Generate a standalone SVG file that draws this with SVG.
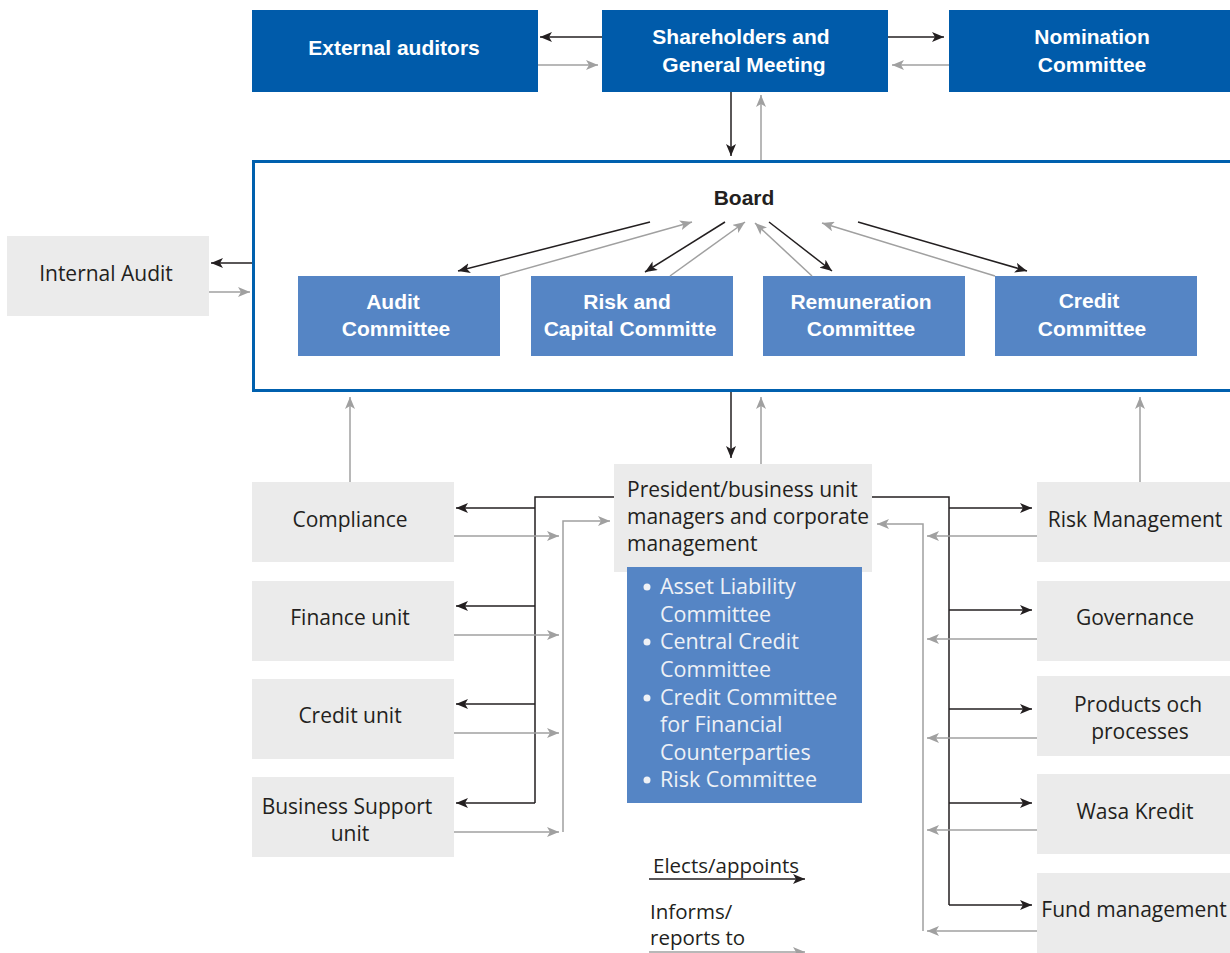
<svg xmlns="http://www.w3.org/2000/svg" width="1230" height="953" viewBox="0 0 1230 953">
<style>
.dk{fill:#005BAA}
.md{fill:#5585C5}
.lt{fill:#EBEBEB}
.bt{font-family:"Liberation Sans",Arial,sans-serif;font-weight:bold;font-size:21px;fill:#fff;text-anchor:middle}
.gt{font-family:"Open Sans","Liberation Sans",Arial,sans-serif;font-size:21px;fill:#231F20;text-anchor:middle}
.lt2{font-family:"Open Sans","Liberation Sans",Arial,sans-serif;font-size:21px;fill:#231F20}
.lg{font-family:"Open Sans","Liberation Sans",Arial,sans-serif;font-size:20.5px;fill:#231F20}
.wt{font-family:"Open Sans","Liberation Sans",Arial,sans-serif;font-size:21.5px;fill:#EEF1F6}
.k{stroke:#231F20;stroke-width:1.5;fill:none}
.g{stroke:#A0A0A0;stroke-width:1.5;fill:none}
.ka{marker-end:url(#ak)}
.ga{marker-end:url(#ag)}
</style>
<defs>
<marker id="ak" viewBox="0 0 12 10" refX="12" refY="5" markerWidth="12" markerHeight="10" markerUnits="userSpaceOnUse" orient="auto"><path d="M0,0 L12,5 L0,10 L3,5 z" fill="#231F20"/></marker>
<marker id="ag" viewBox="0 0 12 10" refX="12" refY="5" markerWidth="12" markerHeight="10" markerUnits="userSpaceOnUse" orient="auto"><path d="M0,0 L12,5 L0,10 L3,5 z" fill="#A0A0A0"/></marker>
</defs>
<rect width="1230" height="953" fill="#fff"/>

<g id="board">
<rect x="253.5" y="161.5" width="1000" height="229" fill="none" stroke="#0060AE" stroke-width="3"/>
<text x="744" y="205" style="font-family:'Liberation Sans',Arial,sans-serif;font-weight:bold;font-size:21px;fill:#231F20;text-anchor:middle">Board</text>
</g>

<g id="external-auditors"><rect class="dk" x="252" y="10" width="286" height="82"/><text class="bt" x="394" y="55">External auditors</text></g>
<g id="shareholders"><rect class="dk" x="602" y="10" width="286" height="82"/><text class="bt" x="741" y="44">Shareholders and</text><text class="bt" x="744" y="72">General Meeting</text></g>
<g id="nomination"><rect class="dk" x="949" y="10" width="290" height="82"/><text class="bt" x="1092" y="44">Nomination</text><text class="bt" x="1092" y="72">Committee</text></g>

<g id="internal-audit"><rect class="lt" x="7" y="236" width="202" height="80"/><text class="gt" x="106" y="281">Internal Audit</text></g>

<g id="audit-committee"><rect class="md" x="298" y="276" width="202" height="80"/><text class="bt" x="393" y="309">Audit</text><text class="bt" x="396" y="336">Committee</text></g>
<g id="risk-capital"><rect class="md" x="531" y="276" width="202" height="80"/><text class="bt" x="627" y="309">Risk and</text><text class="bt" x="630" y="336">Capital Committe</text></g>
<g id="remuneration"><rect class="md" x="763" y="276" width="202" height="80"/><text class="bt" x="861" y="309">Remuneration</text><text class="bt" x="861" y="336">Committee</text></g>
<g id="credit-committee"><rect class="md" x="995" y="276" width="202" height="80"/><text class="bt" x="1089" y="308">Credit</text><text class="bt" x="1092" y="336">Committee</text></g>

<g id="president"><rect class="lt" x="614" y="464" width="258" height="108"/>
<text class="lt2" x="627" y="497">President/business unit</text>
<text class="lt2" x="627" y="524">managers and corporate</text>
<text class="lt2" x="627" y="551">management</text></g>

<g id="management-committees"><rect class="md" x="627" y="567" width="235" height="236"/>
<g class="wt">
<circle cx="647" cy="587" r="3.5" fill="#EEF1F6"/><text x="660" y="594">Asset Liability</text><text x="660" y="622">Committee</text>
<circle cx="647" cy="642" r="3.5" fill="#EEF1F6"/><text x="660" y="649">Central Credit</text><text x="660" y="677">Committee</text>
<circle cx="647" cy="698" r="3.5" fill="#EEF1F6"/><text x="660" y="705">Credit Committee</text><text x="660" y="732">for Financial</text><text x="660" y="760">Counterparties</text>
<circle cx="647" cy="780" r="3.5" fill="#EEF1F6"/><text x="660" y="787">Risk Committee</text>
</g></g>

<g id="compliance"><rect class="lt" x="252" y="482" width="202" height="80"/><text class="gt" x="350" y="527">Compliance</text></g>
<g id="finance-unit"><rect class="lt" x="252" y="581" width="202" height="80"/><text class="gt" x="350" y="625">Finance unit</text></g>
<g id="credit-unit"><rect class="lt" x="252" y="679" width="202" height="80"/><text class="gt" x="350" y="723">Credit unit</text></g>
<g id="business-support"><rect class="lt" x="252" y="777" width="202" height="80"/><text class="gt" x="347" y="814">Business Support</text><text class="gt" x="350" y="841">unit</text></g>

<g id="risk-management"><rect class="lt" x="1037" y="482" width="200" height="80"/><text class="gt" x="1135" y="527">Risk Management</text></g>
<g id="governance"><rect class="lt" x="1037" y="581" width="200" height="80"/><text class="gt" x="1135" y="625">Governance</text></g>
<g id="products"><rect class="lt" x="1037" y="676" width="200" height="80"/><text class="gt" x="1138" y="712">Products och</text><text class="gt" x="1140" y="739">processes</text></g>
<g id="wasa-kredit"><rect class="lt" x="1037" y="774" width="200" height="80"/><text class="gt" x="1135" y="819">Wasa Kredit</text></g>
<g id="fund-management"><rect class="lt" x="1037" y="873" width="200" height="90"/><text class="gt" x="1134" y="917">Fund management</text></g>

<g id="connectors">
<path class="k ka" d="M602,37 L540,37"/>
<path class="g ga" d="M538,65 L598,65"/>
<path class="k ka" d="M888,37 L944,37"/>
<path class="g ga" d="M949,65 L892,65"/>
<path class="k ka" d="M731,92 L731,156"/>
<path class="g ga" d="M761,160 L761,95"/>
<path class="k ka" d="M252,263 L211,263"/>
<path class="g ga" d="M209,292 L250,292"/>
<path class="k ka" d="M650,222 L458,271"/>
<path class="g ga" d="M500,276 L692,222"/>
<path class="k ka" d="M725,222 L645,272"/>
<path class="g ga" d="M670,276 L745,222"/>
<path class="g ga" d="M812,276 L755,223"/>
<path class="k ka" d="M769,222 L832,271"/>
<path class="g ga" d="M995,276 L822,223"/>
<path class="k ka" d="M858,222 L1027,271"/>
<path class="k ka" d="M731,392 L731,458"/>
<path class="g ga" d="M761,464 L761,397"/>
<path class="g ga" d="M350,482 L350,397"/>
<path class="g ga" d="M1140,482 L1140,397"/>
<path class="k" d="M614,497 L535,497 L535,803"/>
<path class="k ka" d="M535,508 L456,508"/>
<path class="k ka" d="M535,606 L456,606"/>
<path class="k ka" d="M535,704 L456,704"/>
<path class="k ka" d="M535,803 L456,803"/>
<path class="g ga" d="M454,536 L559,536"/>
<path class="g ga" d="M454,635 L559,635"/>
<path class="g ga" d="M454,733 L559,733"/>
<path class="g ga" d="M454,832 L559,832"/>
<path class="g ga" d="M563,832 L563,521 L610,521"/>
<path class="k" d="M872,497 L949,497 L949,905"/>
<path class="k ka" d="M949,508 L1032,508"/>
<path class="k ka" d="M949,610 L1032,610"/>
<path class="k ka" d="M949,709 L1032,709"/>
<path class="k ka" d="M949,803 L1032,803"/>
<path class="k ka" d="M949,905 L1032,905"/>
<path class="g ga" d="M1037,536 L927,536"/>
<path class="g ga" d="M1037,639 L927,639"/>
<path class="g ga" d="M1037,738 L927,738"/>
<path class="g ga" d="M1037,830 L927,830"/>
<path class="g ga" d="M1037,931 L927,931"/>
<path class="g ga" d="M923,931 L923,524 L877,524"/>
</g>

<g id="legend">
<text class="lg" x="653" y="873">Elects/appoints</text>
<path class="k ka" d="M649,879 L805,879"/>
<text class="lg" x="650" y="919">Informs/</text>
<text class="lg" x="650" y="945">reports to</text>
<path class="g ga" d="M649,952 L805,952"/>
</g>
</svg>
